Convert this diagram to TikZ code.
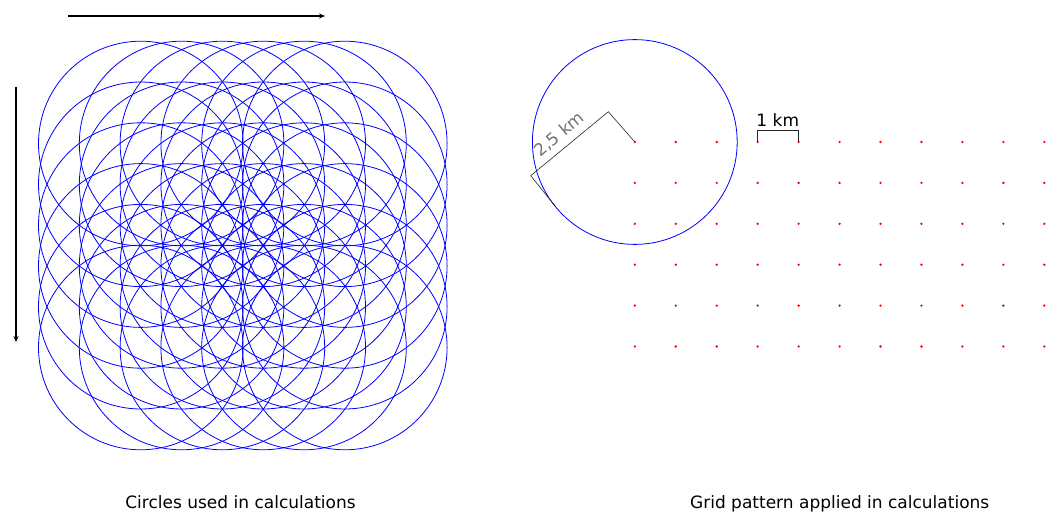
\documentclass[tikz,border=0pt]{standalone}
\usepackage{fontspec}
\setmainfont{DejaVu Sans}
\usetikzlibrary{arrows.meta}
\tikzset{
  circ/.style={draw=blue, line width=0.8pt},
  dotmark/.style={fill=red, draw=none},
  dimline/.style={draw=black!85, line width=0.6pt},
  arrowline/.style={draw=black, line width=1.4pt, -{Stealth[length=6pt,width=5pt]}},
  caption/.style={font=\fontsize{17}{20}\selectfont, inner sep=0pt, anchor=base},
  lbl/.style={font=\fontsize{17}{20}\selectfont, inner sep=0pt},
}
\begin{document}
\begin{tikzpicture}[x=1pt,y=-1pt]
\useasboundingbox (0,0) rectangle (1049,513);
% arrows
\coordinate (hs) at (68,16);
\coordinate (he) at (325,16);
\coordinate (vs) at (16,87);
\coordinate (ve) at (16,342);
\draw[arrowline] (hs) -- (he);
\draw[arrowline] (vs) -- (ve);
% circle grid
\foreach \i in {0,...,5}{
  \foreach \j in {0,...,5}{
    \draw[circ] ({140.8+40.8*\i},{143.5+40.8*\j}) circle[radius=102.3pt];
  }
}
% right circle
\coordinate (C) at (634.8,142);
\draw[circ] (C) circle[radius=102.4pt];
% dots
\foreach \i in {0,...,10}{
  \foreach \j in {0,...,5}{
    \fill[dotmark] ({634.8+40.95*\i},{142+40.9*\j}) circle[radius=1.3pt];
  }
}
% radius dimension
\coordinate (A) at (608.3,111.7);
\coordinate (B) at (530.7,175.7);
\coordinate (P) at (555.7,206.7);
\draw[dimline] (C) -- (A) -- (B) -- (P);
\node[lbl, text=black!55, rotate=39.5] (rlab) at (559.5,134.5) {2,5 km};
% 1 km scale
\coordinate (s1) at (757.3,142);
\coordinate (s2) at (798.3,142);
\coordinate (s1t) at (757.3,130.5);
\coordinate (s2t) at (798.3,130.5);
\draw[dimline] (s1) -- (s1t) -- (s2t) -- (s2);
\node[caption] (klab) at (777.8,126.7) {1 km};
% captions
\node[caption] (cap1) at (240.5,508) {Circles used in calculations};
\node[caption] (cap2) at (839.7,508) {Grid pattern applied in calculations};
\end{tikzpicture}
\end{document}
